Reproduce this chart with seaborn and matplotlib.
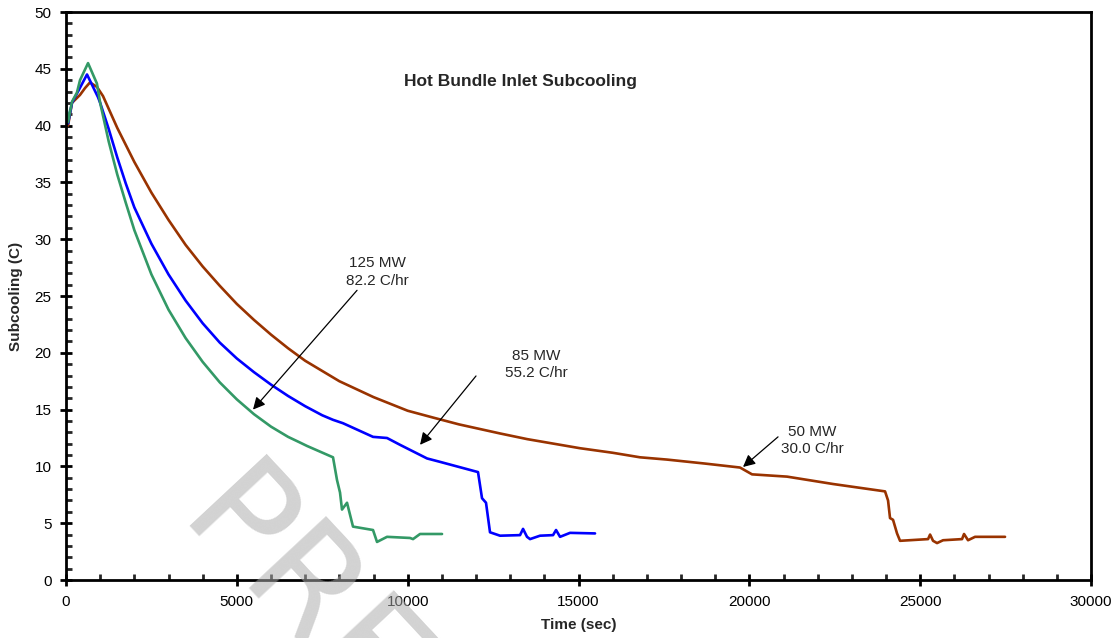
import numpy as np
import pandas as pd
import matplotlib
matplotlib.use("Agg")
import matplotlib.pyplot as plt
from matplotlib.ticker import MultipleLocator
import seaborn as sns

# Hot bundle inlet subcooling traces for three power levels
t_125 = [0, 60, 175, 320, 410, 645, 905, 1000, 1250, 1500, 1750, 2000, 2500, 3000,
         3500, 4000, 4500, 5000, 5500, 6000, 6500, 6849, 7054, 7815, 7932, 8020,
         8078, 8225, 8400, 8986, 9103, 9396, 10069, 10157, 10362, 11006]
y_125 = [42.1, 40.3, 42.1, 42.9, 44.0, 45.5, 43.7, 42.0, 38.6, 35.7, 33.2, 30.8, 26.9, 23.8,
         21.3, 19.2, 17.4, 15.9, 14.6, 13.5, 12.6, 12.1, 11.8, 10.8, 8.8, 7.7,
         6.2, 6.8, 4.7, 4.4, 3.35, 3.8, 3.7, 3.6, 4.05, 4.05]

t_85 = [0, 60, 175, 615, 937, 1000, 1250, 1500, 1750, 2000, 2500, 3000, 3500, 4000,
        4500, 5000, 5500, 6000, 6500, 7000, 7500, 7815, 8108, 8986, 9396, 9776,
        10567, 10947, 12059, 12176, 12293, 12410, 12703, 13289, 13377, 13493, 13582,
        13874, 14255, 14343, 14460, 14752, 15484]
y_85 = [42.0, 40.2, 42.0, 44.5, 42.5, 42.0, 39.7, 37.2, 34.9, 32.8, 29.6, 26.9, 24.6, 22.6,
        20.9, 19.5, 18.3, 17.2, 16.2, 15.3, 14.5, 14.1, 13.8, 12.6, 12.5, 11.9,
        10.7, 10.4, 9.5, 7.2, 6.8, 4.2, 3.9, 3.95, 4.5, 3.8, 3.6,
        3.9, 3.95, 4.4, 3.8, 4.15, 4.1]

t_50 = [0, 60, 175, 410, 556, 702, 907, 1083, 1500, 2000, 2500, 3000, 3500, 4000,
        4500, 5000, 5500, 6000, 6500, 7000, 7500, 8000, 8500, 9000, 9500, 10000,
        10742, 11500, 12703, 13500, 15045, 16000, 16801, 17591, 18700, 19728,
        20079, 21103, 22450, 23972, 24060, 24118, 24206, 24323, 24411, 25231, 25290,
        25377, 25494, 25670, 26226, 26284, 26401, 26606, 27484]
y_50 = [40.3, 40.0, 42.0, 42.7, 43.3, 43.8, 43.4, 42.6, 39.8, 36.8, 34.1, 31.7, 29.5, 27.6,
        25.9, 24.3, 22.9, 21.6, 20.4, 19.3, 18.4, 17.5, 16.8, 16.1, 15.5, 14.9,
        14.3, 13.7, 12.9, 12.4, 11.6, 11.2, 10.8, 10.6, 10.25, 9.9,
        9.3, 9.1, 8.45, 7.8, 7.0, 5.45, 5.3, 4.1, 3.45, 3.6, 4.0,
        3.45, 3.25, 3.5, 3.6, 4.05, 3.5, 3.8, 3.8]

series_names = ["125 MW", "85 MW", "50 MW"]
series_colors = ["#339966", "#0000FF", "#993300"]

frames = []
for name, t, y in zip(series_names, [t_125, t_85, t_50], [y_125, y_85, y_50]):
    frames.append(pd.DataFrame({"time": t, "subcooling": y, "case": name}))
df = pd.concat(frames, ignore_index=True)

sns.set_style("ticks")
plt.rcParams["font.family"] = ["Liberation Sans", "DejaVu Sans"]

fig = plt.figure(figsize=(11.19, 6.38), dpi=100)
ax = fig.add_axes([66 / 1119, 58 / 638, 1025 / 1119, 568 / 638])

# Draw the 50 MW trace first so the faster cooldowns sit on top
order = ["50 MW", "85 MW", "125 MW"]
palette = dict(zip(series_names, series_colors))
for name in order:
    sub = df[df["case"] == name]
    sns.lineplot(data=sub, x="time", y="subcooling", color=palette[name],
                 sort=False, estimator=None, lw=1.9, ax=ax, legend=False)

ax.set_xlim(0, 30000)
ax.set_ylim(0, 50)
ax.xaxis.set_major_locator(MultipleLocator(5000))
ax.xaxis.set_minor_locator(MultipleLocator(1000))
ax.yaxis.set_major_locator(MultipleLocator(5))
ax.yaxis.set_minor_locator(MultipleLocator(1))

for side in ["left", "right", "top", "bottom"]:
    ax.spines[side].set_linewidth(2.0)
    ax.spines[side].set_color("black")

ax.tick_params(axis="both", which="major", direction="inout", length=9, width=2,
               labelsize=11, colors="black")
ax.tick_params(axis="y", which="major", pad=6)
ax.tick_params(axis="x", which="major", pad=6)
ax.tick_params(axis="both", which="minor", direction="in", length=4, width=2)

ax.set_xlabel("Time (sec)", fontsize=11, fontweight="bold", labelpad=7)
ax.set_ylabel("Subcooling (C)", fontsize=11, fontweight="bold", labelpad=8)

ax.text(13289, 43.9, "Hot Bundle Inlet Subcooling", ha="center", va="center",
        fontsize=12.5, fontweight="bold")

arrow_kw = dict(arrowstyle="-|>", color="black", lw=0.9, mutation_scale=18,
                shrinkA=0, shrinkB=0)
ax.annotate("", xy=(5473, 15.0), xytext=(8518, 25.5), arrowprops=arrow_kw)
ax.text(9103, 27.1, "125 MW\n82.2 C/hr", ha="center", va="center", fontsize=11,
        linespacing=1.3)
ax.annotate("", xy=(10362, 11.9), xytext=(12000, 17.96), arrowprops=arrow_kw)
ax.text(13757, 19.0, "85 MW\n55.2 C/hr", ha="center", va="center", fontsize=11,
        linespacing=1.3)
ax.annotate("", xy=(19815, 9.95), xytext=(20840, 12.6), arrowprops=arrow_kw)
ax.text(21835, 12.3, "50 MW\n30.0 C/hr", ha="center", va="center", fontsize=11,
        linespacing=1.3)

# Draft watermark
fig.text(175 / 1119, (638 - 525) / 638, "PRELIMINARY", rotation=-47,
         rotation_mode="anchor", ha="left", va="baseline", fontsize=104,
         color="#ababab", alpha=0.53, family="DejaVu Sans", zorder=10)

fig.savefig("out.png", dpi=100)
